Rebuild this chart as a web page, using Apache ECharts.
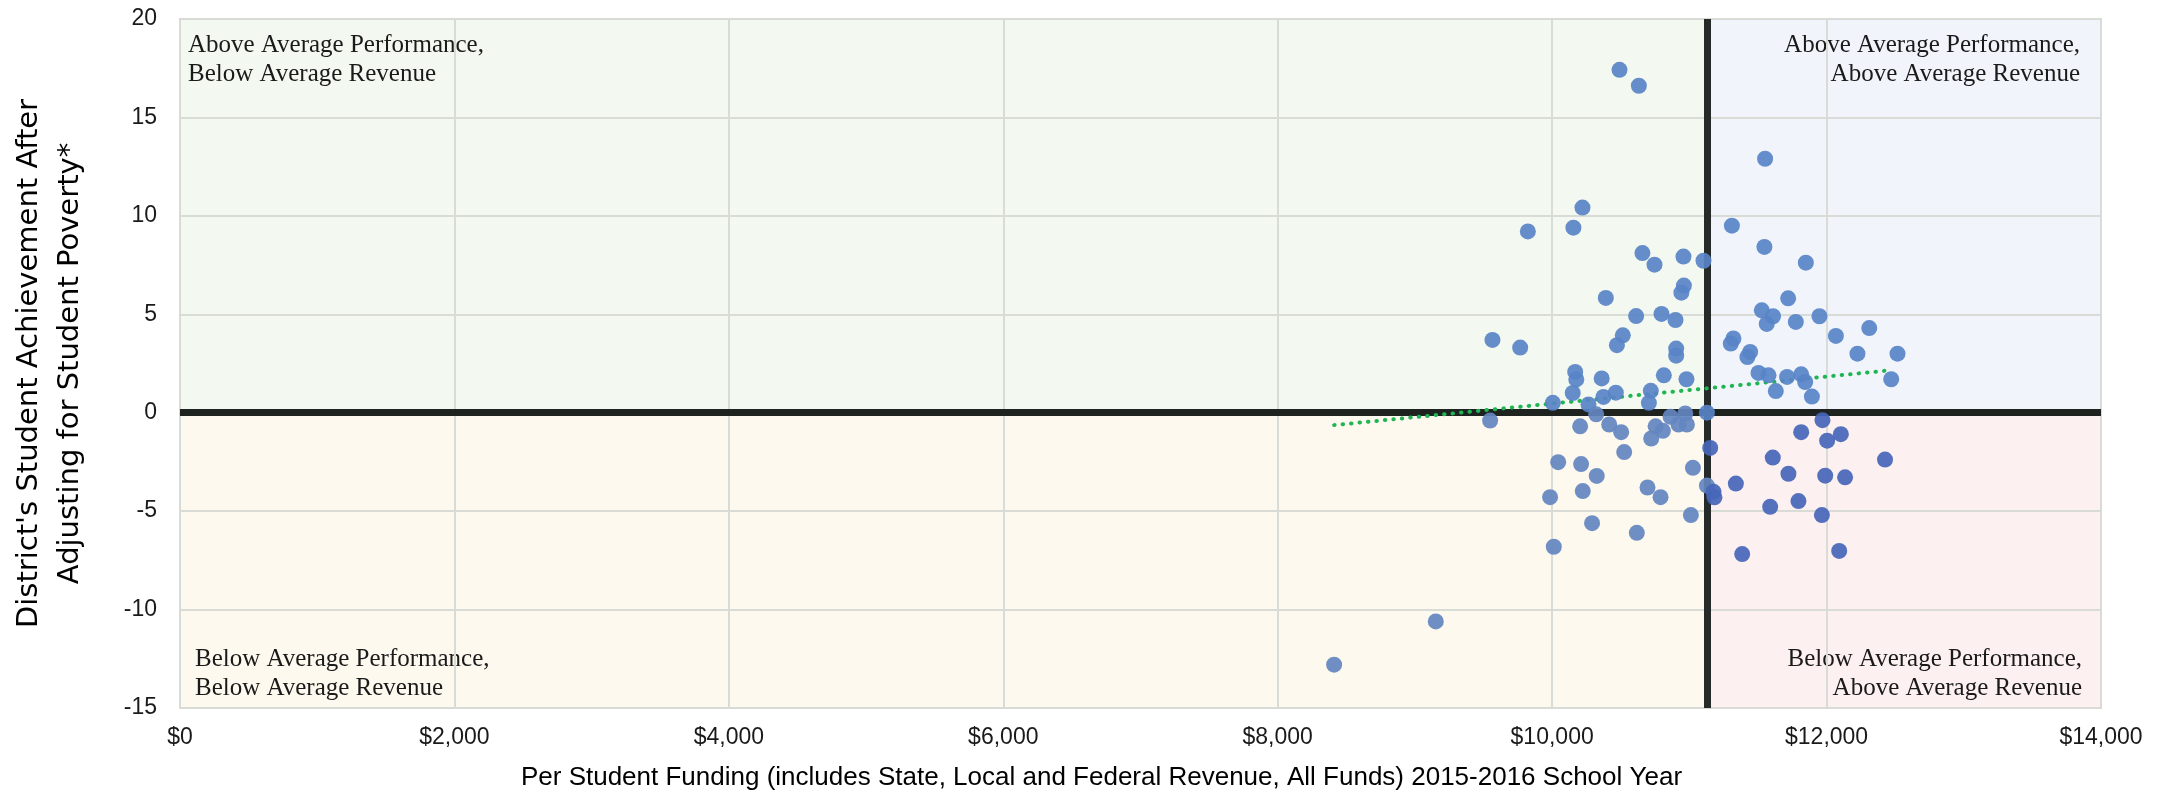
<!DOCTYPE html>
<html>
<head>
<meta charset="utf-8">
<title>Funding vs Achievement</title>
<script src="https://cdn.jsdelivr.net/npm/echarts@6/dist/echarts.min.js"></script>
<style>
  html, body { margin: 0; padding: 0; background: #fff; }
  #chart { width: 2164px; height: 793px; }
</style>
</head>
<body>
<div id="chart"></div>
<script>
// per student funding ($) and adjusted achievement, one entry per district
const funding = [
  8411, 9152, 9823, 9565, 9767, 10155, 10221, 9548, 10005, 10044,
  9985, 10012, 10168, 10176, 10150, 10204, 10211, 10223, 10491, 10632,
  10658, 10746, 10957, 11103, 10391, 10960, 10942, 10612, 10797, 10899,
  10515, 10472, 10904, 10904, 10361, 10374, 10464, 10265, 10321, 10416,
  10503, 10525, 10325, 10291, 10617, 10695, 10790, 11026, 11011, 11128,
  11176, 11183, 11152, 11339, 11385, 11128, 10719, 10705, 10814, 10979,
  10754, 10807, 10722, 10863, 10921, 10970, 10982,
  11310, 11552, 11547, 11849, 11720, 11528, 11610, 11564, 11776, 11948,
  12068, 12311, 12225, 12517, 12471, 11321, 11302, 11443, 11423, 11504,
  11577, 11630, 11712, 11815, 11844, 11893, 11970, 11815, 12004, 12104,
  11608, 12426, 11722, 11990, 12135, 11589, 11795, 11966, 12092
];
const achievement = [
  -12.8, -10.6, 9.21, 3.7, 3.31, 9.4, 10.42, -0.4, 0.5, -2.51,
  -4.29, -6.81, 2.07, 1.69, 1.0, -0.69, -2.61, -3.98, 17.42, 16.61,
  8.11, 7.52, 7.93, 7.72, 5.83, 6.46, 6.1, 4.91, 5.02, 4.71,
  3.93, 3.43, 3.26, 2.9, 1.74, 0.8, 1.02, 0.42, -0.08, -0.6,
  -0.99, -2.0, -3.21, -5.61, -6.1, -3.8, -4.29, -2.8, -5.2, -3.7,
  -4.02, -4.3, -1.79, -3.6, -7.18, 0.0, 1.11, 0.5, 1.9, 1.7,
  -0.69, -0.92, -1.31, -0.21, -0.6, -0.04, -0.6,
  9.5, 12.9, 8.42, 7.62, 5.81, 5.2, 4.9, 4.51, 4.61, 4.9,
  3.9, 4.3, 3.0, 3.0, 1.7, 3.77, 3.51, 3.09, 2.83, 2.02,
  1.9, 1.1, 1.82, 1.95, 1.56, 0.82, -0.38, -0.99, -1.42, -1.09,
  -2.28, -2.38, -3.1, -3.2, -3.28, -4.78, -4.49, -5.2, -7.02
];

// average revenue line and linear trend endpoints
const avgRevenue = 11130;
const trendX = [8411, 12468];
const trendY = [-0.63, 2.16];

const xTicks = [0, 2000, 4000, 6000, 8000, 10000, 12000, 14000];
const yRange = [-15, 20];

const quadrantLabels = {
  topLeft: "Above Average Performance,\nBelow Average Revenue",
  topRight: "Above Average Performance,\nAbove Average Revenue",
  bottomLeft: "Below Average Performance,\nBelow Average Revenue",
  bottomRight: "Below Average Performance,\nAbove Average Revenue"
};

const points = funding.map((x, i) => [x, achievement[i]]);

const labelFont = {
  fontFamily: "Liberation Serif",
  fontSize: 25,
  lineHeight: 29,
  color: "#1a1a1a"
};

function quadrant(x0, y0, x1, y1, color, text, pos, offset) {
  return [
    {
      coord: [x0, y0],
      itemStyle: { color: color },
      label: Object.assign({ show: true, formatter: text, position: pos, distance: 0, offset: offset }, labelFont)
    },
    { coord: [x1, y1] }
  ];
}

const chart = echarts.init(document.getElementById("chart"));

const option = {
  animation: false,
  grid: {
    left: 180,
    right: 63,
    top: 19,
    bottom: 85,
    outerBoundsMode: "none",
    show: true,
    z: 3,
    backgroundColor: "transparent",
    borderColor: "#d9d9d9",
    borderWidth: 2
  },
  xAxis: {
    type: "value",
    z: 3,
    min: xTicks[0],
    max: xTicks[xTicks.length - 1],
    interval: 2000,
    axisLine: { show: false, onZero: false },
    axisTick: { show: false },
    splitLine: { lineStyle: { color: "#d9dcd6", width: 2 } },
    axisLabel: {
      margin: 18,
      fontFamily: "Liberation Sans",
      fontSize: 23,
      color: "#1a1a1a",
      formatter: (v) => "$" + v.toLocaleString("en-US")
    },
    name: "Per Student Funding (includes State, Local and Federal Revenue, All Funds) 2015-2016 School Year",
    nameLocation: "middle",
    nameGap: 55,
    nameTextStyle: {
      fontFamily: "Liberation Sans",
      fontSize: 26,
      lineHeight: 30,
      color: "#000",
      padding: [0, 78, 0, 0]
    }
  },
  yAxis: {
    type: "value",
    z: 3,
    min: yRange[0],
    max: yRange[1],
    interval: 5,
    axisLine: { show: false },
    axisTick: { show: false },
    splitLine: { lineStyle: { color: "#d9dcd6", width: 2 } },
    axisLabel: {
      margin: 23,
      fontFamily: "Liberation Sans",
      fontSize: 23,
      color: "#1a1a1a"
    },
    name: "District's Student Achievement After\nAdjusting for Student Poverty*",
    nameLocation: "middle",
    nameGap: 89,
    nameTextStyle: {
      fontFamily: "DejaVu Sans",
      fontSize: 29,
      lineHeight: 41,
      color: "#000"
    }
  },
  series: [
    // quadrant backgrounds and their captions
    {
      type: "scatter",
      z: 1,
      data: [],
      silent: true,
      markArea: {
        silent: true,
        data: [
          quadrant(0, 20, avgRevenue, 0, "#f3f8f0", quadrantLabels.topLeft, "insideTopLeft", [8, 12]),
          quadrant(avgRevenue, 20, 14000, 0, "#f1f5fb", quadrantLabels.topRight, "insideTopRight", [-21, 12]),
          quadrant(0, 0, avgRevenue, -15, "#fef9ee", quadrantLabels.bottomLeft, "insideBottomLeft", [15, -5]),
          quadrant(avgRevenue, 0, 14000, -15, "#fdf0f0", quadrantLabels.bottomRight, "insideBottomRight", [-19, -5])
        ]
      }
    },
    // average lines
    {
      type: "scatter",
      z: 4,
      data: [],
      silent: true,
      markLine: {
        silent: true,
        symbol: "none",
        label: { show: false },
        data: [
          { yAxis: 0, lineStyle: { color: "#1f231f", width: 7, type: "solid" } },
          { xAxis: avgRevenue, lineStyle: { color: "#262a28", width: 7, type: "solid" } }
        ]
      }
    },
    // trend line
    {
      type: "line",
      z: 5,
      silent: true,
      symbol: "none",
      data: trendX.map((x, i) => [x, trendY[i]]),
      lineStyle: { color: "#1fb553", width: 4, type: [0.5, 8], cap: "round" }
    },
    {
      type: "scatter",
      z: 6,
      symbolSize: 16,
      data: points,
      itemStyle: {
        opacity: 0.92,
        color: (p) => {
          const [x, y] = p.value;
          if (y < 0 && x > avgRevenue) return "#4766b8";
          if (y < 0) return "#6386c0";
          return "#5883c7";
        }
      }
    }
  ]
};

chart.setOption(option);
</script>
</body>
</html>
